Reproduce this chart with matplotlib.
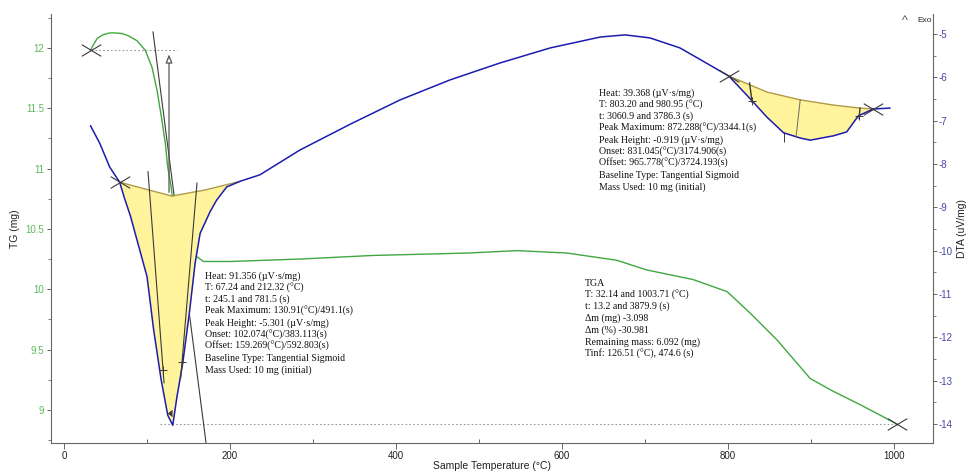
import numpy as np
import matplotlib
matplotlib.use('Agg')
import matplotlib.pyplot as plt
from matplotlib.ticker import MultipleLocator, FixedLocator
from matplotlib.path import Path

# ---------------- data ----------------
tg_temp = [32, 34, 40, 47, 55, 61, 70, 78, 88, 98, 106, 112, 118, 122, 125, 129, 131,
           140, 152, 160, 168, 200, 284, 372, 486, 546, 606, 666, 702, 758,
           799, 827, 859, 899, 925, 960, 985, 1004]
tg_mass = [11.98, 12.01, 12.08, 12.11, 12.125, 12.125, 12.12, 12.10, 12.06, 11.98, 11.84, 11.65,
           11.40, 11.21, 11.01, 10.85, 10.74, 10.49, 10.33, 10.27, 10.23, 10.23,
           10.25, 10.28, 10.30, 10.32, 10.30, 10.24, 10.16, 10.08, 9.98, 9.80,
           9.58, 9.26, 9.16, 9.04, 8.95, 8.88]

dta_temp = [32, 43, 55, 67, 73, 80, 90, 100, 108, 117, 125, 131, 136, 143, 151,
            158, 164, 176, 184, 196, 212, 236, 284, 345, 405, 465, 525, 586,
            646, 676, 706, 742, 772, 801, 826, 847, 867, 887, 899, 927, 943,
            957, 975, 995]
dta_val = [-7.12, -7.52, -8.07, -8.42, -8.80, -9.20, -9.90, -10.60, -11.83,
           -12.98, -13.80, -14.03, -13.38, -12.60, -11.44, -10.28, -9.60, -9.10,
           -8.83, -8.53, -8.40, -8.25, -7.68, -7.08, -6.52, -6.06, -5.67, -5.32,
           -5.07, -5.02, -5.09, -5.32, -5.65, -5.97, -6.48, -6.92, -7.28, -7.40,
           -7.45, -7.35, -7.26, -6.89, -6.73, -6.71]

base1_temp = [67.2, 100, 130, 170, 212.3]
base1_val = [-8.42, -8.59, -8.74, -8.60, -8.40]
base2_temp = [801, 847, 887, 927, 959, 975]
base2_val = [-5.97, -6.34, -6.52, -6.64, -6.71, -6.73]

x_ticks = [0, 200, 400, 600, 800, 1000]
tg_ticks = [9, 9.5, 10, 10.5, 11, 11.5, 12]
tg_tick_labels = ['9', '9.5', '10', '10.5', '11', '11.5', '12']
dta_ticks = [-14, -13, -12, -11, -10, -9, -8, -7, -6, -5]

heat1_lines = ["Heat: 91.356 (\u00b5V\u00b7s/mg)",
               "T: 67.24 and 212.32 (\u00b0C)",
               "t: 245.1 and 781.5 (s)",
               "Peak Maximum: 130.91(\u00b0C)/491.1(s)",
               "Peak Height: -5.301 (\u00b5V\u00b7s/mg)",
               "Onset: 102.074(\u00b0C)/383.113(s)",
               "Offset: 159.269(\u00b0C)/592.803(s)",
               "Baseline Type: Tangential Sigmoid",
               "Mass Used: 10 mg (initial)"]
heat2_lines = ["Heat: 39.368 (\u00b5V\u00b7s/mg)",
               "T: 803.20 and 980.95 (\u00b0C)",
               "t: 3060.9 and 3786.3 (s)",
               "Peak Maximum: 872.288(\u00b0C)/3344.1(s)",
               "Peak Height: -0.919 (\u00b5V\u00b7s/mg)",
               "Onset: 831.045(\u00b0C)/3174.906(s)",
               "Offset: 965.778(\u00b0C)/3724.193(s)",
               "Baseline Type: Tangential Sigmoid",
               "Mass Used: 10 mg (initial)"]
tga_lines = ["TGA",
             "T: 32.14 and 1003.71 (\u00b0C)",
             "t: 13.2 and 3879.9 (s)",
             "\u0394m (mg) -3.098",
             "\u0394m (%) -30.981",
             "Remaining mass: 6.092 (mg)",
             "Tinf: 126.51 (\u00b0C), 474.6 (s)"]

# ---------------- style ----------------
GREEN = '#3fa83f'
GREEN_TXT = '#5cb85c'
BLUE = '#1c1cb0'
BLUE_TXT = '#4646a8'
YELLOW = '#fff49c'
EDGE = '#b09a45'
DARK = '#3a3a3a'
SPINE = '#666666'
SANS = ['Liberation Sans', 'DejaVu Sans']
SERIF = ['Liberation Serif', 'DejaVu Serif']

plt.rcParams['font.family'] = SANS

# flattened cross marker
XMARK = Path([(-1, -0.6), (1, 0.6), (-1, 0.6), (1, -0.6)],
             [Path.MOVETO, Path.LINETO, Path.MOVETO, Path.LINETO])

fig = plt.figure(figsize=(9.68, 4.72), dpi=100)
ax = fig.add_axes([51 / 968, 29 / 472, 882 / 968, 429 / 472])
ax2 = ax.twinx()

ax.set_xlim(-15.7, 1047)
ax.set_ylim(8.725, 12.282)
ax2.set_ylim(-14.44, -4.538)

# TG curve
ax.plot(tg_temp, tg_mass, color=GREEN, lw=1.0, zorder=2)
# TG dotted baselines
ax.plot([tg_temp[0], 136], [tg_mass[0], tg_mass[0]], ls=(0, (1.5, 2)), color='#9a9a9a', lw=0.8)
ax.plot([116, tg_temp[-1]], [tg_mass[-1], tg_mass[-1]], ls=(0, (1.5, 2)), color='#9a9a9a', lw=0.8)
# TG markers
ax.plot([tg_temp[0], tg_temp[-1]], [tg_mass[0], tg_mass[-1]], ls='none', marker=XMARK,
        ms=14, mew=0.8, color=DARK, zorder=4)
# TG inflection tangent
ax.plot([107.2, 171.1], [12.133, 8.725], color=DARK, lw=0.8, zorder=3)
# Tinf arrow
ax.annotate('', xy=(126.5, 11.97), xytext=(126.5, 10.78),
            arrowprops=dict(arrowstyle='-|>,head_width=0.2,head_length=0.5',
                            fc='white', ec='#555555', lw=0.9))

# DTA curve and fills
def peak_fill(bt, bv):
    xs = sorted(set([t for t in dta_temp if bt[0] <= t <= bt[-1]] + list(bt)))
    xs = np.array(xs, dtype=float)
    curve = np.interp(xs, dta_temp, dta_val)
    base = np.interp(xs, bt, bv)
    ax2.fill_between(xs, curve, base, color=YELLOW, lw=0, zorder=1)
    ax2.plot(bt, bv, color=EDGE, lw=1.0, zorder=2)

peak_fill(base1_temp, base1_val)
peak_fill(base2_temp, base2_val)
ax2.plot(dta_temp, dta_val, color=BLUE, lw=1.1, zorder=3)

# DTA tangent / construction lines
ax2.plot([101.2, 120.5], [-8.18, -13.05], color=DARK, lw=0.8, zorder=4)
ax2.plot([160.2, 140.5], [-8.44, -12.95], color=DARK, lw=0.8, zorder=4)
ax2.plot([826, 829], [-6.13, -6.57], color=DARK, lw=1.0, zorder=4)
ax2.plot([887, 882], [-6.52, -7.38], color='#6a6a6a', lw=0.7, zorder=4)
ax2.plot([959, 958], [-6.71, -6.95], color=DARK, lw=1.0, zorder=4)
ax2.plot([118.9, 142.5, 829, 958], [-12.75, -12.56, -6.55, -6.89], ls='none', marker='+',
         ms=6, mew=0.7, color=DARK, zorder=5)
ax2.plot([867], [-7.38], ls='none', marker='|', ms=7, mew=0.7, color=DARK, zorder=5)
ax2.plot([125.5], [-13.75], ls='none', marker=4, ms=4, mew=0.7, color=DARK, zorder=5)
ax2.plot([67.2, 801, 975], [-8.42, -5.97, -6.73], ls='none', marker=XMARK, ms=14, mew=0.8,
         color=DARK, zorder=5)

# annotation texts
def block(lines, t, v):
    for i, line in enumerate(lines):
        ax2.annotate(line, xy=(t, v), xycoords='data', xytext=(0, -i * 8.46),
                     textcoords='offset points', va='center', ha='left',
                     fontsize=7.1, family=SERIF, color='#111111', zorder=6)

block(heat1_lines, 169.9, -10.585)
block(heat2_lines, 644.6, -6.36)
block(tga_lines, 627.7, -10.75)

# axes styling
for s in ['top', 'right']:
    ax.spines[s].set_visible(False)
for s in ['top', 'left', 'bottom']:
    ax2.spines[s].set_visible(False)
ax.spines['left'].set_color(SPINE)
ax.spines['bottom'].set_color(SPINE)
ax2.spines['right'].set_color(SPINE)

ax.xaxis.set_major_locator(FixedLocator(x_ticks))
ax.xaxis.set_minor_locator(MultipleLocator(100))
ax.set_xticklabels([str(t) for t in x_ticks])
ax.yaxis.set_major_locator(FixedLocator(tg_ticks))
ax.set_yticklabels(tg_tick_labels)
ax.yaxis.set_minor_locator(MultipleLocator(0.25))
ax2.yaxis.set_major_locator(FixedLocator(dta_ticks))
ax2.set_yticklabels([str(t) for t in dta_ticks])
ax2.yaxis.set_minor_locator(MultipleLocator(0.5))

ax.tick_params(axis='x', which='major', length=4, width=0.7, color=SPINE, pad=2,
               labelsize=7, labelcolor='#222222')
ax.tick_params(axis='x', which='minor', length=3, width=0.7, color=SPINE, direction='in')
ax.tick_params(axis='y', which='major', length=3, width=0.7, color=SPINE, pad=2,
               labelsize=7, labelcolor=GREEN_TXT)
ax.tick_params(axis='y', which='minor', length=2, width=0.6, color=SPINE)
ax2.tick_params(axis='y', which='major', length=3, width=0.7, color=SPINE, pad=1,
                labelsize=7, labelcolor=BLUE_TXT)
ax2.tick_params(axis='y', which='minor', length=2, width=0.6, color=SPINE)

ax.set_xlabel('Sample Temperature (\u00b0C)', fontsize=7.5, labelpad=0, color='#222222')
ax.set_ylabel('TG (mg)', fontsize=7.5, labelpad=4, color='#222222')
ax2.set_ylabel('DTA (uV/mg)', fontsize=7.5, labelpad=3, color='#222222')

fig.text(905 / 968, 1 - 21 / 472, '^', fontsize=9, color='#555555', ha='center', va='center')
fig.text(917 / 968, 1 - 20 / 472, 'Exo', fontsize=6, color='#222222', ha='left', va='center')

fig.savefig('out.png', dpi=100)
